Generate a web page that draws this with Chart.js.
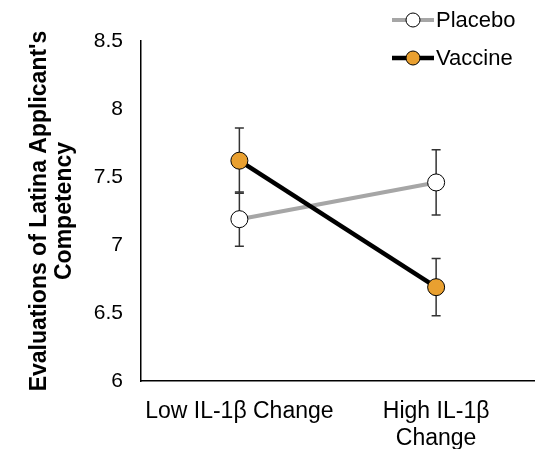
<!DOCTYPE html>
<html>
<head>
<meta charset="utf-8">
<script src="https://cdn.jsdelivr.net/npm/chart.js@4/dist/chart.umd.min.js"></script>
<style>
    html, body { margin: 0; padding: 0; background: #fff; }
    #wrap { width: 544px; height: 449px; }
</style>
</head>
<body>
<div id="wrap"><canvas id="chart" width="544" height="449"></canvas></div>
<script>
// Data
const categories = ['Low IL-1β Change', ['High IL-1β', 'Change']];
const placebo = [7.19, 7.46];
const placeboErr = [0.20, 0.24];
const vaccine = [7.62, 6.69];
const vaccineErr = [0.24, 0.21];
const yTitle = ["Evaluations of Latina Applicant's", 'Competency'];

const FONT = "Arial, 'Liberation Sans', sans-serif";

// Error bars, drawn behind the lines and markers
const errorBars = {
    id: 'errorBars',
    beforeDatasetsDraw(chart) {
        const ctx = chart.ctx;
        const y = chart.scales.y;
        chart.data.datasets.forEach((ds, i) => {
            const meta = chart.getDatasetMeta(i);
            meta.data.forEach((pt, j) => {
                const v = ds.data[j];
                const e = ds.errors[j];
                const top = y.getPixelForValue(v + e);
                const bot = y.getPixelForValue(v - e);
                ctx.save();
                ctx.strokeStyle = '#333333';
                ctx.lineWidth = 1.5;
                ctx.beginPath();
                ctx.moveTo(pt.x, top);
                ctx.lineTo(pt.x, bot);
                ctx.moveTo(pt.x - 4.5, top);
                ctx.lineTo(pt.x + 4.5, top);
                ctx.moveTo(pt.x - 4.5, bot);
                ctx.lineTo(pt.x + 4.5, bot);
                ctx.stroke();
                ctx.restore();
            });
        });
    }
};

// Legend stacked in the top right corner
const stackedLegend = {
    id: 'stackedLegend',
    afterDraw(chart) {
        const ctx = chart.ctx;
        const rows = [20, 58];
        chart.data.datasets.forEach((ds, i) => {
            const cy = rows[i];
            ctx.save();
            ctx.strokeStyle = ds.borderColor;
            ctx.lineWidth = ds.borderWidth;
            ctx.beginPath();
            ctx.moveTo(392, cy);
            ctx.lineTo(434, cy);
            ctx.stroke();
            ctx.beginPath();
            ctx.arc(413, cy, 7, 0, Math.PI * 2);
            ctx.fillStyle = ds.pointBackgroundColor;
            ctx.fill();
            ctx.lineWidth = 1;
            ctx.strokeStyle = '#000';
            ctx.stroke();
            ctx.fillStyle = '#000';
            ctx.font = '22px ' + FONT;
            ctx.textBaseline = 'middle';
            ctx.textAlign = 'left';
            ctx.fillText(ds.label, 436, cy + 1);
            ctx.restore();
        });
    }
};

const ctx = document.getElementById('chart').getContext('2d');
new Chart(ctx, {
    type: 'line',
    data: {
        labels: categories,
        datasets: [{
            label: 'Placebo',
            data: placebo,
            errors: placeboErr,
            borderColor: '#a6a6a6',
            borderWidth: 4,
            pointBackgroundColor: '#ffffff',
            pointBorderColor: '#000000',
            pointBorderWidth: 1,
            pointRadius: 8.5,
            tension: 0,
            order: 2
        }, {
            label: 'Vaccine',
            data: vaccine,
            errors: vaccineErr,
            borderColor: '#000000',
            borderWidth: 4.5,
            pointBackgroundColor: '#e9a030',
            pointBorderColor: '#000000',
            pointBorderWidth: 1,
            pointRadius: 8.5,
            tension: 0,
            order: 1
        }]
    },
    options: {
        responsive: false,
        animation: false,
        layout: { padding: { top: 41, right: 0, left: 0, bottom: 0 } },
        plugins: {
            legend: { display: false },
            tooltip: { enabled: false }
        },
        scales: {
            x: {
                offset: true,
                grid: { display: false },
                border: { color: '#000', width: 1.5 },
                ticks: {
                    color: '#000',
                    padding: 9,
                    maxRotation: 0,
                    font: { family: FONT, size: 23, lineHeight: 1.17 }
                },
                afterFit: s => { s.height = 68; }
            },
            y: {
                min: 6,
                max: 8.5,
                grid: { display: false },
                border: { color: '#000', width: 1.5 },
                ticks: {
                    stepSize: 0.5,
                    color: '#000',
                    padding: 10,
                    font: { family: FONT, size: 21 },
                    callback: v => String(Number(v))
                },
                title: {
                    display: true,
                    text: yTitle,
                    color: '#000',
                    padding: { top: 27, bottom: 0 },
                    font: { family: FONT, size: 23, weight: 'bold', lineHeight: 1.1 }
                },
                afterFit: s => { s.width = 141; }
            }
        }
    },
    plugins: [errorBars, stackedLegend]
});
</script>
</body>
</html>
